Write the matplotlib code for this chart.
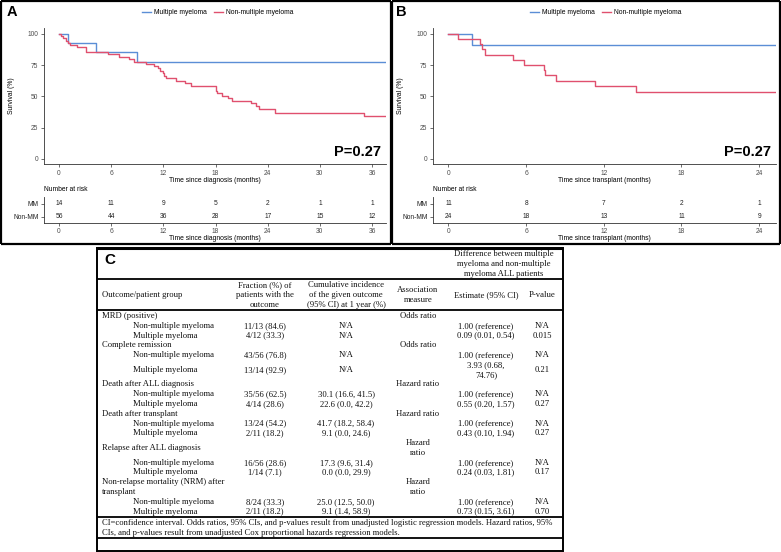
import matplotlib
matplotlib.use('Agg')
import matplotlib.pyplot as plt
from matplotlib.lines import Line2D

# ---------------- data ----------------
# Panel A: overall survival since diagnosis
A_mm_t = [0, 1.07, 4.2, 9.0, 37.6]
A_mm_s = [100, 92.9, 85.7, 77.3, 77.3]
A_nmm_t = [0, 0.2, 0.5, 0.8, 1.0, 1.3, 2.1, 3.1, 5.6, 6.9, 8.0, 8.6, 10.0, 10.9, 11.4,
           11.6, 11.9, 12.1, 12.3, 13.5, 14.5, 15.2, 18.1, 18.2, 18.7, 19.4, 19.9,
           22.1, 22.6, 23.0, 24.8, 35.1, 37.6]
A_nmm_s = [100, 98.2, 96.4, 94.6, 92.9, 91.1, 89.3, 85.7, 83.5, 81.6, 79.5, 77.3, 75.7,
           74.1, 72.3, 70.4, 68.3, 66.1, 64.3, 62.1, 60.3, 58.1, 54.4, 52.3, 50.4, 48.3,
           46.1, 44.3, 42.1, 40.0, 36.8, 33.9, 33.9]
A_risk_times = [0, 6, 12, 18, 24, 30, 36]
A_risk_mm = [14, 11, 9, 5, 2, 1, 1]
A_risk_nmm = [56, 44, 36, 28, 17, 15, 12]

# Panel B: survival since transplant
B_mm_t = [0, 1.86, 25.3]
B_mm_s = [100, 90.9, 90.9]
B_nmm_t = [0, 0.75, 2.47, 2.57, 2.86, 5.0, 5.8, 7.37, 7.47, 8.3, 11.3, 14.5, 25.3]
B_nmm_s = [100, 95.8, 91.7, 87.5, 83.3, 79.2, 75.0, 70.8, 66.7, 62.5, 58.3, 53.6, 53.6]
B_risk_times = [0, 6, 12, 18, 24]
B_risk_mm = [11, 8, 7, 2, 1]
B_risk_nmm = [24, 18, 13, 11, 9]

series_names = ["Multiple myeloma", "Non-multiple myeloma"]
risk_labels = ["MM", "Non-MM"]
p_value_text = "P=0.27"

# Panel C table
header_top = "Difference between multiple\nmyeloma and non-multiple\nmyeloma ALL patients"
col_headers = ["Outcome/patient group", "Fraction (%) of\npatients with the\noutcome",
               "Cumulative incidence\nof the given outcome\n(95% CI) at 1 year (%)",
               "Association\nmeasure", "Estimate (95% CI)", "P-value"]
outcomes = ["MRD (positive)", "Complete remission", "Death after ALL diagnosis",
            "Death after transplant", "Relapse after ALL diagnosis",
            "Non-relapse mortality (NRM) after\ntransplant"]
assoc = ["Odds ratio", "Odds ratio", "Hazard ratio", "Hazard ratio", "Hazard\nratio", "Hazard\nratio"]
groups = ["Non-multiple myeloma", "Multiple myeloma"]
fractions = [["11/13 (84.6)", "4/12 (33.3)"], ["43/56 (76.8)", "13/14 (92.9)"],
             ["35/56 (62.5)", "4/14 (28.6)"], ["13/24 (54.2)", "2/11 (18.2)"],
             ["16/56 (28.6)", "1/14 (7.1)"], ["8/24 (33.3)", "2/11 (18.2)"]]
cuminc = [["N/A", "N/A"], ["N/A", "N/A"], ["30.1 (16.6, 41.5)", "22.6 (0.0, 42.2)"],
          ["41.7 (18.2, 58.4)", "9.1 (0.0, 24.6)"], ["17.3 (9.6, 31.4)", "0.0 (0.0, 29.9)"],
          ["25.0 (12.5, 50.0)", "9.1 (1.4, 58.9)"]]
estimates = [["1.00 (reference)", "0.09 (0.01, 0.54)"], ["1.00 (reference)", "3.93 (0.68,\n74.76)"],
             ["1.00 (reference)", "0.55 (0.20, 1.57)"], ["1.00 (reference)", "0.43 (0.10, 1.94)"],
             ["1.00 (reference)", "0.24 (0.03, 1.81)"], ["1.00 (reference)", "0.73 (0.15, 3.61)"]]
pvals = [["N/A", "0.015"], ["N/A", "0.21"], ["N/A", "0.27"], ["N/A", "0.27"],
         ["N/A", "0.17"], ["N/A", "0.70"]]
footnote = ("CI=confidence interval. Odds ratios, 95% CIs, and p-values result from unadjusted logistic regression models. Hazard ratios, 95%\n"
            "CIs, and p-values result from unadjusted Cox proportional hazards regression models.")

# ---------------- figure ----------------
W, H = 781, 552
fig = plt.figure(figsize=(W / 100, H / 100), dpi=100)
SANS = 'Liberation Sans'
SERIF = 'Liberation Serif'
BLUE = '#5B8ED6'
RED = '#E0506E'
GREY = '#4D4D4D'


def ax_px(l, t, r, b):
    return fig.add_axes([l / W, 1 - b / H, (r - l) / W, (b - t) / H])


def style_axes(ax):
    for s in ['top', 'right']:
        ax.spines[s].set_visible(False)
    for s in ['left', 'bottom']:
        ax.spines[s].set_linewidth(0.6)
        ax.spines[s].set_color('#333333')
    ax.tick_params(axis='both', length=2, width=0.5, color='#333333',
                   labelsize=4.8, labelcolor=GREY, pad=2)
    for lab in ax.get_xticklabels() + ax.get_yticklabels():
        lab.set_fontfamily(SANS)
    ax.set_facecolor('none')


def km_panel(x0, x1, xlim, xticks, mm_t, mm_s, nmm_t, nmm_s, xlabel,
             risk_times, risk_mm, risk_nmm, letter, legend_cx):
    ax = ax_px(x0, 28, x1, 164)
    ax.step(mm_t, mm_s, where='post', color=BLUE, lw=1.0, label=series_names[0])
    ax.step(nmm_t, nmm_s, where='post', color=RED, lw=1.0, label=series_names[1])
    ax.set_xlim(*xlim)
    ax.set_ylim(-4.2, 104.6)
    ax.set_xticks(xticks)
    ax.set_yticks([0, 25, 50, 75, 100])
    style_axes(ax)
    ax.set_xlabel(xlabel, fontsize=4.9, fontfamily=SANS, color='black', labelpad=0.5)
    ax.set_ylabel("Survival (%)", fontsize=4.9, fontfamily=SANS, color='black', labelpad=9)
    ax.text(0.985, 0.06, p_value_text, transform=ax.transAxes, ha='right', va='baseline',
            fontsize=10.5, fontweight='bold', fontfamily=SANS)
    handles = [Line2D([], [], color=BLUE, lw=1.0), Line2D([], [], color=RED, lw=1.0)]
    fig.legend(handles, series_names, loc='center', bbox_to_anchor=(legend_cx / W, 1 - 13 / H),
               ncol=2, frameon=False, prop={'family': SANS, 'size': 4.9},
               handlelength=1.3, handletextpad=0.5, columnspacing=1.0)
    fig.text((x0 - 37) / W, 1 - 12 / H, letter, fontsize=10.5, fontweight='bold',
             fontfamily=SANS, ha='left', va='center')
    fig.text(x0 / W, 1 - 189 / H, "Number at risk", fontsize=4.8, fontfamily=SANS,
             ha='left', va='center')
    # risk table
    rax = ax_px(x0, 197, x1, 223)
    for t, a, b in zip(risk_times, risk_mm, risk_nmm):
        rax.text(t, 2, str(a), ha='center', va='center', fontsize=4.8, fontfamily=SANS, color='#222222')
        rax.text(t, 1, str(b), ha='center', va='center', fontsize=4.8, fontfamily=SANS, color='#222222')
    rax.set_xlim(*xlim)
    rax.set_ylim(0.5, 2.5)
    rax.set_xticks(xticks)
    rax.set_yticks([2, 1])
    rax.set_yticklabels(risk_labels)
    style_axes(rax)
    rax.tick_params(axis='y', labelcolor='#222222')
    rax.tick_params(axis='x', pad=1.5)
    rax.set_xlabel(xlabel, fontsize=4.9, fontfamily=SANS, color='black', labelpad=0.3)


km_panel(44, 386, (-1.73, 37.6), A_risk_times, A_mm_t, A_mm_s, A_nmm_t, A_nmm_s,
         "Time since diagnosis (months)", A_risk_times, A_risk_mm, A_risk_nmm, "A", 218)
km_panel(433, 776, (-1.19, 25.3), B_risk_times, B_mm_t, B_mm_s, B_nmm_t, B_nmm_s,
         "Time since transplant (months)", B_risk_times, B_risk_mm, B_risk_nmm, "B", 606)

# ---------------- overlay for borders and table ----------------
ov = fig.add_axes([0, 0, 1, 1])
ov.set_xlim(0, W)
ov.set_ylim(H, 0)
ov.axis('off')
ov.patch.set_alpha(0)


def hline(y, x0, x1, lw):
    ov.plot([x0, x1], [y, y], color='black', lw=lw, solid_capstyle='butt')


def vline(x, y0, y1, lw):
    ov.plot([x, x], [y0, y1], color='black', lw=lw, solid_capstyle='butt')


# panel boxes
for (x0, x1) in [(1, 390.5), (391.5, 780)]:
    hline(1, x0, x1, 1.6)
    hline(244, x0, x1, 1.6)
    vline(x0, 1, 244, 1.6)
    vline(x1, 1, 244, 1.6)

# table box
TL, TR = 97, 563
hline(247.5, TL, TR, 2.2)
vline(TL, 247, 552, 1.4)
vline(TR, 247, 552, 1.4)
for y in [279, 310, 517, 538]:
    hline(y, TL, TR, 1.3)
hline(551, TL, TR, 1.4)

fs = 6.2
tk = dict(fontsize=fs, fontfamily=SERIF, color='#111111', linespacing=1.3)
ov.text(104, 260, "C", fontsize=11, fontweight='bold', fontfamily=SANS, ha='left', va='center')
ov.text(504, 264, header_top, ha='center', va='center', **tk)

col_x = [102, 265, 346, 418, 486, 542]
ov.text(col_x[0], 295, col_headers[0], ha='left', va='center', **tk)
for x, h in zip(col_x[1:], col_headers[1:]):
    ov.text(x, 295, h, ha='center', va='center', **tk)

LINE = 9.78
y_first = 316
sub_x = 133
line_idx = 0


def ycen(start, n):
    return y_first + (start + (n - 1) / 2) * LINE


for i, name in enumerate(outcomes):
    n_head = max(name.count('\n'), assoc[i].count('\n')) + 1
    yc = ycen(line_idx, n_head)
    ov.text(col_x[0], yc, name, ha='left', va='center', **tk)
    ov.text(col_x[3], yc, assoc[i], ha='center', va='center', **tk)
    line_idx += n_head
    for j in range(2):
        n = estimates[i][j].count('\n') + 1
        yc = ycen(line_idx, n)
        ov.text(sub_x, yc, groups[j], ha='left', va='center', **tk)
        ov.text(col_x[1], yc, fractions[i][j], ha='center', va='center', **tk)
        ov.text(col_x[2], yc, cuminc[i][j], ha='center', va='center', **tk)
        ov.text(col_x[4], yc, estimates[i][j], ha='center', va='center', **tk)
        ov.text(col_x[5], yc, pvals[i][j], ha='center', va='center', **tk)
        line_idx += n

ov.text(col_x[0], 528, footnote, ha='left', va='center', **tk)

fig.savefig('out.png', dpi=100)
